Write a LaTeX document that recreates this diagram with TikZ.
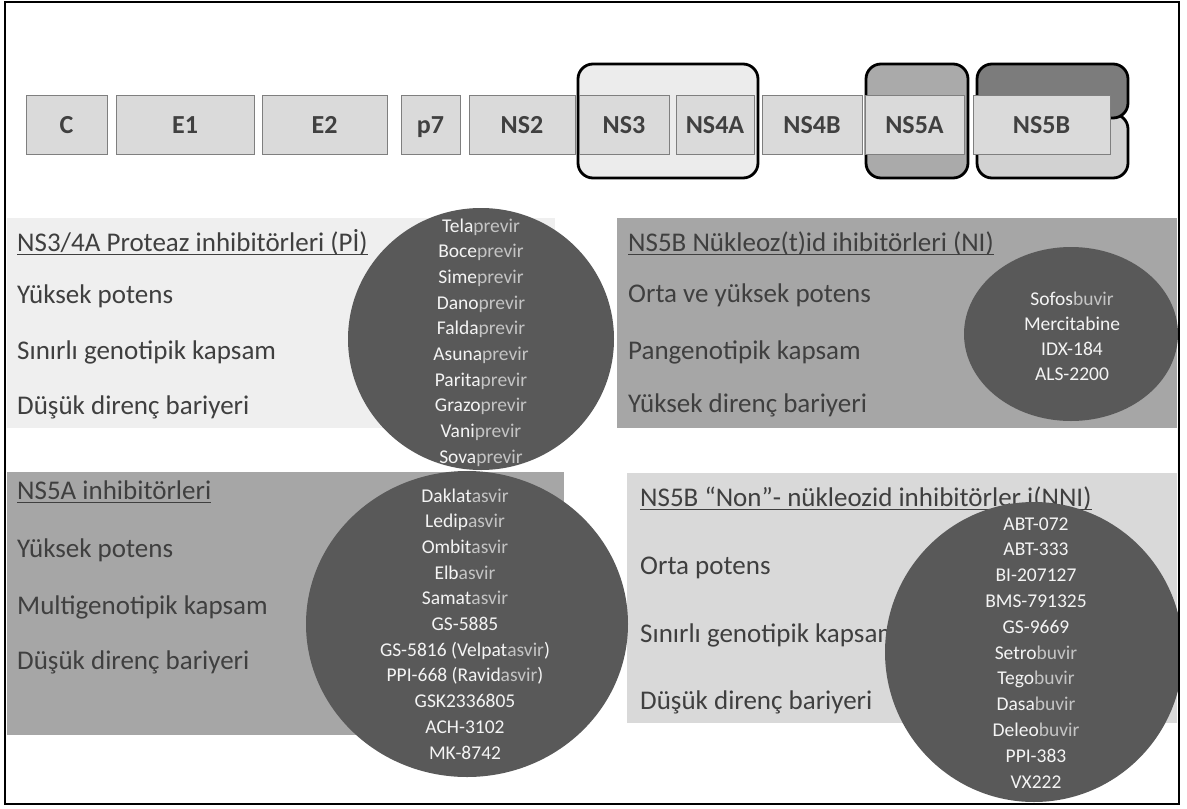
\documentclass[tikz,border=0pt]{standalone}
\usepackage{fontspec}
\setmainfont{Carlito}
\definecolor{gfill}{HTML}{DADADA}
\definecolor{gline}{HTML}{7F7F7F}
\definecolor{gtext}{HTML}{404040}
\definecolor{ptxt}{HTML}{3F3F3F}
\definecolor{panA}{HTML}{EFEFEF}
\definecolor{panB}{HTML}{A6A6A6}
\definecolor{panD}{HTML}{D9D9D9}
\definecolor{circf}{HTML}{595959}
\definecolor{cwhite}{HTML}{F4F4F4}
\definecolor{cgray}{HTML}{C4C4C4}
\definecolor{rrA}{HTML}{ECECEC}
\definecolor{rrB}{HTML}{AAAAAA}
\definecolor{rrDark}{HTML}{7C7C7C}
\definecolor{rrLight}{HTML}{D2D2D2}
\newcommand{\Wt}[1]{\textcolor{cwhite}{#1}}
\newcommand{\Gt}[1]{\textcolor{cgray}{#1}}
\begin{document}
\begin{tikzpicture}[x=1pt,y=-1pt,
  gbox/.style={draw=gline, fill=gfill, line width=1pt, inner sep=0pt, minimum height=59pt,
    text height=17pt, text depth=0pt,
    text=gtext, font=\fontsize{26}{30}\selectfont\bfseries},
  rframe/.style={draw=black, line width=2.8pt, rounded corners=15pt},
  ptext/.style={anchor=base west, inner sep=0pt, text=ptxt, font=\fontsize{27}{32}\selectfont},
  uline/.style={draw=ptxt, line width=1.3pt},
  ctext/.style={anchor=base, inner sep=0pt, text=cwhite, font=\fontsize{19.5}{24}\selectfont},
  circle fill/.style={fill=circf}]
\useasboundingbox (0,0) rectangle (1187,809);

% ---- panels ----
\fill[panA] (7,218) rectangle (555,428);
\fill[panB] (617,218) rectangle (1177,428);
\fill[panB] (7,472) rectangle (564,735);
\fill[panD] (627,473) rectangle (1177,723);

% ---- panel texts ----
\node[ptext] (h1) at (17,251) {NS3/4A Proteaz inhibitörleri (Pİ)};
\node[ptext] (a1) at (17,303) {Yüksek potens};
\node[ptext] (a2) at (17,359) {Sınırlı genotipik kapsam};
\node[ptext] (a3) at (17,414) {Düşük direnç bariyeri};

\node[ptext] (h2) at (628,251) {NS5B Nükleoz(t)id ihibitörleri (NI)};
\node[ptext] (b1) at (628,302) {Orta ve yüksek potens};
\node[ptext] (b2) at (628,359) {Pangenotipik kapsam};
\node[ptext] (b3) at (628,412) {Yüksek direnç bariyeri};

\node[ptext] (h3) at (17,499) {NS5A inhibitörleri};
\node[ptext] (c1) at (17,557) {Yüksek potens};
\node[ptext] (c2) at (17,614) {Multigenotipik kapsam};
\node[ptext] (c3) at (17,669) {Düşük direnç bariyeri};

\node[ptext] (h4) at (640,506) {NS5B “Non”- nükleozid inhibitörler i(NNI)};
\node[ptext] (d1) at (640,574) {Orta potens};
\node[ptext] (d2) at (640,642) {Sınırlı genotipik kapsam};
\node[ptext] (d3) at (640,709) {Düşük direnç bariyeri};

\foreach \h in {h1,h2,h3,h4}
  \draw[uline] ([yshift=-3.5pt]\h.base west) -- ([yshift=-3.5pt]\h.base east);

% ---- circles ----
\begin{scope}
\clip (5,2) rectangle (1179,804);
\fill[circle fill] (481,339) ellipse [x radius=133pt, y radius=131pt];
\fill[circle fill] (1071,334) ellipse [x radius=107pt, y radius=87pt];
\fill[circle fill] (467,624) ellipse [x radius=161pt, y radius=153pt];
\fill[circle fill] (1034,652) ellipse [x radius=149pt, y radius=150pt];
\end{scope}

\foreach \t [count=\i from 0] in {{\Wt{Tela}\Gt{previr}},{\Wt{Boce}\Gt{previr}},{\Wt{Sime}\Gt{previr}},
  {\Wt{Dano}\Gt{previr}},{\Wt{Falda}\Gt{previr}},{\Wt{Asuna}\Gt{previr}},{\Wt{Parita}\Gt{previr}},
  {\Wt{Grazo}\Gt{previr}},{\Wt{Vani}\Gt{previr}},{\Wt{Sova}\Gt{previr}}}
  \node[ctext] (pi\i) at (481,232+25.7*\i) {\t};

\foreach \t [count=\i from 0] in {{\Wt{Sofos}\Gt{buvir}},{Mercitabine},{IDX-184},{ALS-2200}}
  \node[ctext] (ni\i) at (1072,305+25*\i) {\t};

\foreach \t [count=\i from 0] in {{\Wt{Daklat}\Gt{asvir}},{\Wt{Ledip}\Gt{asvir}},{\Wt{Ombit}\Gt{asvir}},
  {\Wt{Elb}\Gt{asvir}},{\Wt{Samat}\Gt{asvir}},{GS-5885},{\Wt{GS-5816 (Velpat}\Gt{asvir}\Wt{)}},
  {\Wt{PPI-668 (Ravid}\Gt{asvir}\Wt{)}},{GSK2336805},{ACH-3102},{MK-8742}}
  \node[ctext] (na\i) at (465,502+25.7*\i) {\t};

\foreach \t [count=\i from 0] in {{ABT-072},{ABT-333},{BI-207127},{BMS-791325},{GS-9669},
  {\Wt{Setro}\Gt{buvir}},{\Wt{Tego}\Gt{buvir}},{\Wt{Dasa}\Gt{buvir}},{\Wt{Deleo}\Gt{buvir}},
  {PPI-383},{VX222}}
  \node[ctext] (nn\i) at (1036,530+25.8*\i) {\t};

% ---- genome: bracket frames ----
\draw[rframe, fill=rrA] (578,64) rectangle (758,178);
\draw[rframe, fill=rrB] (866,64) rectangle (968,178);
\draw[rframe, fill=rrLight] (977,114) rectangle (1128,178);
\draw[rframe, fill=rrDark] (977,64) rectangle (1128,118);

% ---- genome boxes ----
\node[gbox, minimum width=81pt]  (C)    at (66.5,124.5)  {C};
\node[gbox, minimum width=138pt] (E1)   at (185,124.5)   {E1};
\node[gbox, minimum width=125pt] (E2)   at (324.5,124.5) {E2};
\node[gbox, minimum width=59pt]  (p7)   at (430.5,124.5) {p7};
\node[gbox, minimum width=106pt] (NS2)  at (522,124.5)   {NS2};
\node[gbox, minimum width=90pt]  (NS3)  at (624,124.5)   {NS3};
\node[gbox, minimum width=78pt]  (NS4A) at (715,124.5)   {NS4A};
\node[gbox, minimum width=100pt] (NS4B) at (812,124.5)   {NS4B};
\node[gbox, minimum width=99pt]  (NS5A) at (914.5,124.5) {NS5A};
\node[gbox, minimum width=137pt] (NS5B) at (1041.5,124.5) {NS5B};

% ---- outer frame ----
\draw[line width=2.2pt] (5,2) rectangle (1179,804);
\end{tikzpicture}
\end{document}
